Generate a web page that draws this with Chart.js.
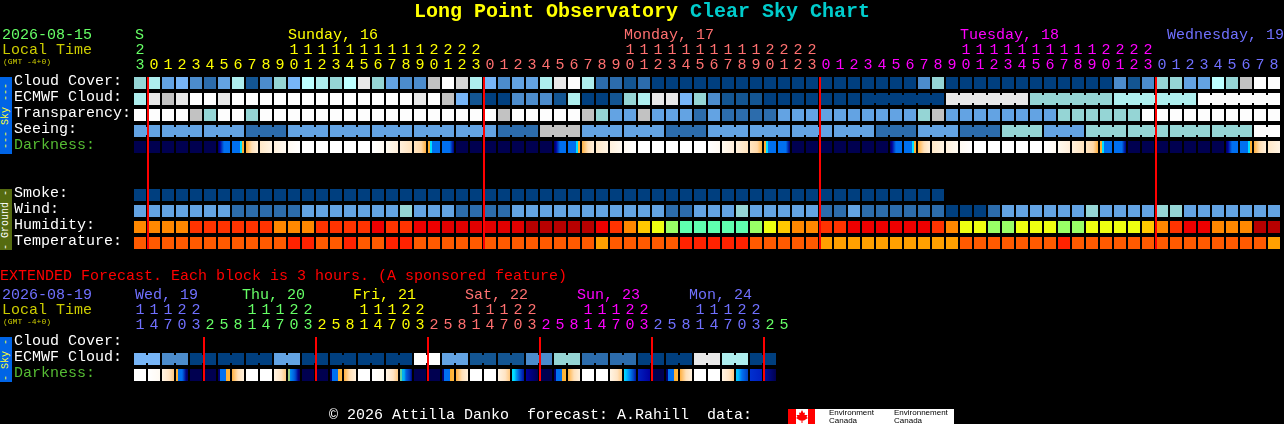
<!DOCTYPE html>
<html>
<head>
<meta charset="utf-8">
<title>Long Point Observatory Clear Sky Chart</title>
<script src="https://cdn.jsdelivr.net/npm/chart.js@4"></script>
<style>
html,body{margin:0;padding:0;background:#000;width:1284px;height:424px;overflow:hidden}
canvas{position:absolute;left:0;display:block}
.t{position:absolute;font:15px/16px "Liberation Mono",monospace;white-space:pre;color:#fff}
.s{position:absolute;font:8px/8px "Liberation Mono",monospace;white-space:pre;color:#cccc00}
.side{position:absolute;left:0;width:12px;writing-mode:vertical-rl;transform:rotate(180deg);text-align:center;font:10px/12px "Liberation Mono",monospace;white-space:pre}
</style>
</head>
<body>
<canvas id="main" style="top:0"></canvas>
<canvas id="ext" style="top:262px"></canvas>

<div class="t" style="left:414px;top:0;font:bold 20px/24px 'Liberation Mono',monospace;color:#ffff00">Long Point Observatory <span style="color:#00cccc">Clear Sky Chart</span></div>
<div class="t" style="left:2px;top:28px;color:#66ff66">2026-08-15</div>
<div class="t" style="left:2px;top:43px;color:#cccc00">Local Time</div>
<div class="s" style="left:3px;top:58px">(GMT -4+0)</div>
<div class="t" style="left:135px;top:28px;color:#66ff66">S</div>
<div class="t" style="left:288px;top:28px;color:#ffff00">Sunday, 16</div>
<div class="t" style="left:624px;top:28px;color:#ff7070">Monday, 17</div>
<div class="t" style="left:960px;top:28px;color:#ff00ff">Tuesday, 18</div>
<div class="t" style="left:1167px;top:28px;color:#7070ff">Wednesday, 19</div>

<div class="side" style="top:77px;height:77px;background:#0064e6;color:#ffff33">--- Sky ---</div>
<div class="side" style="top:189px;height:61px;background:#556b10;color:#fff">- Ground -</div>

<div class="t" style="left:0;top:269px;color:#ff0000">EXTENDED Forecast. Each block is 3 hours. (A sponsored feature)</div>
<div class="t" style="left:2px;top:288px;color:#7070ff">2026-08-19</div>
<div class="t" style="left:2px;top:303px;color:#cccc00">Local Time</div>
<div class="s" style="left:3px;top:318px">(GMT -4+0)</div>
<div class="t" style="left:135px;top:288px;color:#7070ff">Wed, 19</div>
<div class="t" style="left:242px;top:288px;color:#66ff66">Thu, 20</div>
<div class="t" style="left:353px;top:288px;color:#ffff00">Fri, 21</div>
<div class="t" style="left:465px;top:288px;color:#ff7070">Sat, 22</div>
<div class="t" style="left:577px;top:288px;color:#ff00ff">Sun, 23</div>
<div class="t" style="left:689px;top:288px;color:#7070ff">Mon, 24</div>
<div class="side" style="top:337px;height:45px;background:#0064e6;color:#ffff33">- Sky -</div>

<div class="t" style="left:329px;top:408px">© 2026 Attilla Danko  forecast: A.Rahill  data:</div>
<div style="position:absolute;left:788px;top:409px;width:166px;height:15px;background:#fff;overflow:hidden">
  <div style="position:absolute;left:0;top:0;width:8px;height:15px;background:#f00"></div>
  <div style="position:absolute;left:20px;top:0;width:7px;height:15px;background:#f00"></div>
  <svg style="position:absolute;left:8px;top:1px" width="12" height="13" viewBox="0 0 12 13"><polygon fill="#f00" points="6,0 7.5,3 9,2.5 8.5,5 11.5,5 10.5,7 12,8 8,10.5 6.5,10.5 6.5,13 5.5,13 5.5,10.5 4,10.5 0,8 1.5,7 0.5,5 3.5,5 3,2.5 4.5,3"/></svg>
  <div style="position:absolute;left:41px;top:0;font:8px/7.5px 'Liberation Sans',sans-serif;color:#000;white-space:pre">Environment
Canada</div>
  <div style="position:absolute;left:106px;top:0;font:8px/7.5px 'Liberation Sans',sans-serif;color:#000;white-space:pre">Environnement
Canada</div>
</div>

<script>
/* ---------- data: main forecast ---------- */
const topHours = [23,0,1,2,3,4,5,6,7,8,9,10,11,12,13,14,15,16,17,18,19,20,21,22,23,
  0,1,2,3,4,5,6,7,8,9,10,11,12,13,14,15,16,17,18,19,20,21,22,23,
  0,1,2,3,4,5,6,7,8,9,10,11,12,13,14,15,16,17,18,19,20,21,22,23,
  0,1,2,3,4,5,6,7,8];
const topHourDay = [0,1,1,1,1,1,1,1,1,1,1,1,1,1,1,1,1,1,1,1,1,1,1,1,1,
  2,2,2,2,2,2,2,2,2,2,2,2,2,2,2,2,2,2,2,2,2,2,2,2,
  3,3,3,3,3,3,3,3,3,3,3,3,3,3,3,3,3,3,3,3,3,3,3,3,
  4,4,4,4,4,4,4,4,4];
const topRowLabels = ["Cloud Cover:","ECMWF Cloud:","Transparency:","Seeing:","Darkness:",null,null,"Smoke:","Wind:","Humidity:","Temperature:"];
const topMidnights = [1,25,49,73];

const cloudCover = [6,7,4,5,3,2,4,7,1,3, 6,5,8,7,6,8,10,6,4,3, 3,12,9,11,7,5,3,4,4,7, 10,9,7,2,2,1,2,0,0,0,
  0,0,0,0,0,0,0,0,0,0, 0,0,0,0,0,0,3,6,0,0, 0,0,0,0,0,0,0,0,0,0, 3,1,3,6,6,4,4,8,6,12, 9,9];
const ecmwfCloud = [7,10,12,10,9,9,10,9,9,9, 9,9,9,9,9,9,9,9,9,9, 10,9,12,5,1,0,0,3,3,3, 1,7,0,0,1,6,7,10,10,5,
  6,3,1,1,1,0,0,0,0,0, 0,0,0,0,0,0,0,0,10,10, 10,10,10,10,6,6,6,6,6,6, 7,7,7,7,7,7,9,9,9,9, 9,9];
const ecmwfBlocks = [[52,57],[58,63],[64,69],[70,75],[76,81]];
const transparency = [9,9,9,9,12,6,9,9,6,9, 9,9,9,9,9,9,9,9,9,9, 9,9,9,9,9,9,12,9,9,9, 9,9,12,6,4,4,12,4,4,4,
  2,4,2,2,2,2,4,4,4,4, 4,4,4,4,4,4,6,12,4,4, 4,4,4,4,4,4,6,6,6,6, 6,6,9,9,9,9,9,9,9,9, 9,9];
const seeing = [4,4, 4,4,4, 4,4,4, 2,2,2, 4,4,4, 4,4,4, 4,4,4, 4,4,4, 4,4,4, 2,2,2, 12,12,12, 4,4,4, 4,4,4, 2,2,2,
  4,4,4, 4,4,4, 4,4,4, 4,4,4, 2,2,2, 4,4,4, 2,2,2, 6,6,6, 4,4,4, 6,6,6, 6,6,6, 6,6,6, 6,6,6, 9,9];
const seeingBlocks = [[0,1],[2,4],[5,7],[8,10],[11,13],[14,16],[17,19],[20,22],[23,25],[26,28],[29,31],[32,34],[35,37],[38,40],
  [41,43],[44,46],[47,49],[50,52],[53,55],[56,58],[59,61],[62,64],[65,67],[68,70],[71,73],[74,76],[77,79],[80,81]];
const darkness = ["n","n","n","n","n","n","d1","d2","d3","d4","d5","d6","w","w","w","w","w","e1","e2","e3","e4","e5","e6",
  "n","n","n","n","n","n","n","d1","d2","d3","d4","d5","d6","w","w","w","w","w","e1","e2","e3","e4","e5","e6",
  "n","n","n","n","n","n","n","d1","d2","d3","d4","d5","d6","w","w","w","w","w","e1","e2","e3","e4","e5","e6",
  "n","n","n","n","n","n","n","d1","d2","d3","d4"];
const smoke = [0,0,0,0,0,0,0,0,0,0, 0,0,0,0,0,0,0,0,0,0, 0,0,0,0,0,0,0,0,0,0, 0,0,0,0,0,0,0,0,0,0, 0,0,0,0,0,0,0,0,0,0, 0,0,0,0,0,0,0,0];
const wind = [4,4,4,4,4,4,4,2,2,2, 2,2,4,4,4,4,4,4,4,6, 4,4,4,2,2,2,2,4,4,4, 4,4,4,4,4,4,4,4,2,2,
  4,4,4,6,4,4,4,4,4,2, 2,4,2,2,2,2,2,2,0,0, 0,2,4,4,4,4,4,4,6,4, 4,4,4,6,6,4,4,4,4,4, 4,4];
const humidity = [4,4,4,4,3,3,3,3,3,3, 4,4,4,3,3,3,3,2,3,3, 2,2,1,1,1,1,1,1,0,0, 0,0,0,2,3,4,5,6,7,8,
  8,8,8,8,7,6,5,4,4,3, 3,2,2,2,2,2,2,3,4,6, 6,7,7,6,6,6,7,7,6,6, 6,6,5,4,3,2,2,4,4,4, 0,0];
const temperature = [1,1,1,1,1,1,1,1,1,1, 1,0,0,1,1,0,1,1,0,0, 1,1,1,1,1,1,1,1,1,1, 1,1,1,2,1,1,1,1,1,0,
  0,0,0,0,1,1,1,1,1,2, 2,2,2,2,2,2,2,2,2,1, 1,1,1,1,1,1,0,1,1,1, 1,1,1,1,1,1,1,1,1,1, 1,2];

/* ---------- data: extended forecast ---------- */
const extHours = [11,14,17,20,23, 2,5,8,11,14,17,20,23, 2,5,8,11,14,17,20,23, 2,5,8,11,14,17,20,23, 2,5,8,11,14,17,20,23, 2,5,8,11,14,17,20,23, 2,5];
const extHourDay = [4,4,4,4,4, 5,5,5,5,5,5,5,5, 1,1,1,1,1,1,1,1, 2,2,2,2,2,2,2,2, 3,3,3,3,3,3,3,3, 4,4,4,4,4,4,4,4, 5,5];
const extRowLabels = ["Cloud Cover:","ECMWF Cloud:","Darkness:"];
const extMidnights = [5,13,21,29,37,45];
const extEcmwf = [5,5,3,3,0,0,0,0,0,0,4,4,0,0,0,0,0,0,0,0,9,9,4,4,1,1,1,1,3,3,6,6,2,2,2,2,0,0,0,0,10,10,7,7,0,0];
const extBlocks = [[0,1],[2,3],[4,5],[6,7],[8,9],[10,11],[12,13],[14,15],[16,17],[18,19],[20,21],[22,23],[24,25],[26,27],[28,29],[30,31],[32,33],[34,35],[36,37],[38,39],[40,41],[42,43],[44,45]];
const extDarkness = ["w","e1","x5","x1","n","n","x2","d3","w","w","x5","x4","n","n","x2","d3","w","e1","x5","x6","n","n",
  "x2","d3","w","w","x5","x7","x8","n","x2","d3","w","w","x5","x9","xa","n","x2","d3","w","w","x5","xb","xc","xd"];

/* ---------- colour tables ---------- */
const dayColors = ["#66ff66","#ffff00","#ff7070","#ff00ff","#7070ff","#66ff66"];
const skyPalette = ["#003f7f","#135592","#2c6cac","#4c8ccc","#63a3e3","#77b5f7","#95d5d5","#aeeeee","#bdffff","#fdfdfd","#e8e8e8","#d4d4d4","#c2c2c2"];
const humidityPalette = ["#b80000","#e20000","#ee0000","#ff3300","#ff8800","#ffc800","#eeff11","#99ff66","#5fffaf"];
const tempPalette = ["#ff2200","#ff5a00","#ffa000"];
const darknessStops = {
  n:[[0,"#000050"],[1,"#000050"]],
  w:[[0,"#ffffff"],[1,"#ffffff"]],
  d1:[[0,"#000060"],[.17,"#0000a0"],[.34,"#0040c0"],[.5,"#0070f0"],[1,"#0070f0"]],
  d2:[[0,"#0070f0"],[.66,"#0070f0"],[.67,"#00e0ff"],[.83,"#00e0ff"],[.84,"#ffb030"],[1,"#ffb030"]],
  d3:[[0,"#ffb040"],[.5,"#ffe0b8"],[1,"#fff0dc"]],
  d4:[[0,"#ffe8c8"],[1,"#fff4e4"]],
  d5:[[0,"#fff0dc"],[1,"#fffaf2"]],
  d6:[[0,"#fffaf2"],[1,"#ffffff"]],
  e1:[[0,"#ffffff"],[1,"#fffaf2"]],
  e2:[[0,"#fffaf0"],[1,"#ffeeda"]],
  e3:[[0,"#fff0dc"],[1,"#ffe2bc"]],
  e4:[[0,"#ffe4c0"],[.6,"#ffd8a8"],[1,"#ffb040"]],
  e5:[[0,"#ffb030"],[.16,"#ffb030"],[.17,"#00e0ff"],[.33,"#00e0ff"],[.34,"#0070f0"],[1,"#0070f0"]],
  e6:[[0,"#0070f0"],[.66,"#0070f0"],[.83,"#0030b0"],[1,"#000080"]],
  x1:[[0,"#ffb030"],[.16,"#ffb030"],[.17,"#0070f0"],[.5,"#0070f0"],[.66,"#0040c0"],[.84,"#000080"],[1,"#000060"]],
  x2:[[0,"#000060"],[.16,"#000080"],[.17,"#0070f0"],[.65,"#0070f0"],[.66,"#ffb030"],[1,"#ffb840"]],
  x4:[[0,"#a0d080"],[.16,"#a0d080"],[.17,"#0090f0"],[.5,"#0060e0"],[.66,"#0040c0"],[.84,"#000090"],[1,"#000060"]],
  x5:[[0,"#fff4e4"],[.6,"#ffe4c4"],[1,"#ffc880"]],
  x6:[[0,"#60d0a0"],[.17,"#60d0a0"],[.18,"#00b0f0"],[.34,"#00b0f0"],[.5,"#0060e0"],[.84,"#0030b0"],[1,"#000080"]],
  x7:[[0,"#00e0ff"],[.17,"#00e0ff"],[.34,"#00a0f0"],[.66,"#0050d0"],[1,"#0010a0"]],
  x8:[[0,"#0000a0"],[1,"#000050"]],
  x9:[[0,"#00e0ff"],[.17,"#00c0ff"],[.5,"#0080f0"],[.83,"#0040c0"],[1,"#0010a0"]],
  xa:[[0,"#0020c0"],[1,"#0000a0"]],
  xb:[[0,"#00c0ff"],[.17,"#00c0ff"],[.5,"#0070f0"],[1,"#0040c0"]],
  xc:[[0,"#0030d0"],[1,"#0020c0"]],
  xd:[[0,"#0010a0"],[1,"#000050"]]
};

/* ---------- helpers ---------- */
const FONT = {family:'"Liberation Mono", monospace', size:15, lineHeight:1};
const CELL_HALF = 6/16, JOIN_HALF = 4/16, CELL_PX = 12, MARK_SHIFT = 3/7;

function cellRow(values, row, palette){
  return {grouped:false, order:2, barThickness:CELL_PX, inflateAmount:0,
    data: values.map((v,i)=>({x:i, y:[row-CELL_HALF, row+CELL_HALF]})),
    backgroundColor: values.map(v=>palette[v])};
}
function joinRow(values, blocks, row, palette){
  const pts = [];
  blocks.forEach(b=>{ for(let c=b[0]; c<b[1]; c++) pts.push(c); });
  return {grouped:false, order:2, barThickness:2, inflateAmount:0,
    data: pts.map(c=>({x:c+0.5, y:[row-JOIN_HALF, row+JOIN_HALF]})),
    backgroundColor: pts.map(c=>palette[values[c]])};
}
function gradientRow(codes, row){
  return {grouped:false, order:2, barThickness:CELL_PX, inflateAmount:0,
    data: codes.map((c,i)=>({x:i, y:[row-CELL_HALF, row+CELL_HALF]})),
    backgroundColor(ctx){
      const scale = ctx.chart.scales.x;
      const stops = darknessStops[codes[ctx.dataIndex]];
      if(!scale || !stops) return "#000";
      const px = scale.getPixelForValue(ctx.dataIndex);
      if(!isFinite(px)) return stops[0][1];
      const g = ctx.chart.ctx.createLinearGradient(px-6,0,px+6,0);
      stops.forEach(s=>g.addColorStop(s[0],s[1]));
      return g;
    }};
}
function markerRow(cols, lastRow, firstEdge){
  return {grouped:false, order:0, barThickness:2, inflateAmount:0,
    data: cols.map(c=>({x:c-MARK_SHIFT, y:[firstEdge, lastRow+CELL_HALF]})),
    backgroundColor:"#ff0000"};
}
function makeChart(id, h, axisH, hours, hourDay, rowLabels, datasets, bottomPad){
  const el = document.getElementById(id);
  return new Chart(el, {
    type:"bar",
    data:{datasets},
    options:{
      responsive:false, animation:false, devicePixelRatio:1,
      layout:{padding:{left:14,right:3,top:0,bottom:bottomPad}},
      plugins:{legend:{display:false},title:{display:false},tooltip:{enabled:false}},
      events:[],
      scales:{
        x:{type:"linear",position:"top",offset:false,min:-0.5,max:81.5,
          grid:{display:false,drawTicks:false},border:{display:false},
          afterBuildTicks(s){ s.ticks = hours.map((_,i)=>({value:i})); },
          afterFit(s){ s.height = axisH; },
          ticks:{autoSkip:false,maxRotation:0,minRotation:0,padding:2,font:FONT,
            color:c=>dayColors[hourDay[c.tick.value]],
            callback:(v)=>{const n=hours[v]; return n<10?["",String(n)]:[String(Math.floor(n/10)),String(n%10)];}}},
        y:{type:"linear",position:"left",reverse:true,min:-0.5,max:rowLabels.length-0.5,
          grid:{display:false,drawTicks:false},border:{display:false},
          afterBuildTicks(s){ s.ticks = rowLabels.map((l,i)=>({value:i})).filter(t=>rowLabels[t.value]); },
          afterFit(s){ s.width = 119; },
          ticks:{autoSkip:false,padding:0,crossAlign:"far",font:FONT,labelOffset:-1.5,
            color:c=>rowLabels[c.tick.value]==="Darkness:"?"#55bb33":"#ffffff",
            callback:(v)=>rowLabels[v]||""}}
      }
    }
  });
}
document.getElementById("main").width=1284; document.getElementById("main").height=262;
document.getElementById("ext").width=1284; document.getElementById("ext").height=162;

makeChart("main",262,75,topHours,topHourDay,topRowLabels,[
  markerRow(topMidnights,10,-CELL_HALF),
  cellRow(cloudCover,0,skyPalette),
  cellRow(ecmwfCloud,1,skyPalette), joinRow(ecmwfCloud,ecmwfBlocks,1,skyPalette),
  cellRow(transparency,2,skyPalette),
  cellRow(seeing,3,skyPalette), joinRow(seeing,seeingBlocks,3,skyPalette),
  gradientRow(darkness,4),
  cellRow(smoke,7,skyPalette),
  cellRow(wind,8,skyPalette),
  cellRow(humidity,9,humidityPalette),
  cellRow(temperature,10,tempPalette)
],11);

makeChart("ext",162,73,extHours,extHourDay,extRowLabels,[
  markerRow(extMidnights,2,-CELL_HALF),
  cellRow(extEcmwf,1,skyPalette), joinRow(extEcmwf,extBlocks,1,skyPalette),
  gradientRow(extDarkness,2)
],41);
</script>
</body>
</html>
